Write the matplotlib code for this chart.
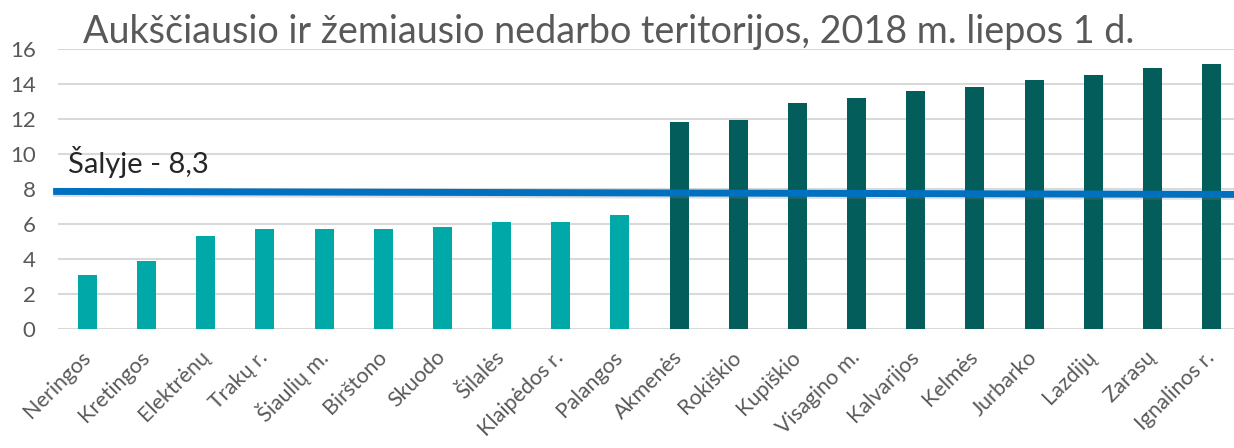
import matplotlib
matplotlib.use("Agg")
import matplotlib.pyplot as plt
import matplotlib.patheffects as pe

plt.rcParams['font.family'] = ['Lato', 'DejaVu Sans']

low_names = ["Neringos", "Kretingos", "Elektrėnų", "Trakų r.", "Šiaulių m.", "Birštono",
             "Skuodo", "Šilalės", "Klaipėdos r.", "Palangos"]
low_vals = [3.1, 3.9, 5.3, 5.7, 5.7, 5.7, 5.8, 6.1, 6.1, 6.5]
high_names = ["Akmenės", "Rokiškio", "Kupiškio", "Visagino m.", "Kalvarijos", "Kelmės",
              "Jurbarko", "Lazdijų", "Zarasų", "Ignalinos r."]
high_vals = [11.8, 11.9, 12.9, 13.2, 13.6, 13.8, 14.2, 14.5, 14.9, 15.1]
yticks = [0, 2, 4, 6, 8, 10, 12, 14, 16]
country_label = "Šalyje - 8,3"
country_line_x = [-0.58, 19.4]
country_line_y = [7.85, 7.68]
title = "Aukščiausio ir žemiausio nedarbo teritorijos, 2018 m. liepos 1 d."

names = low_names + high_names
x_low = list(range(len(low_names)))
x_high = list(range(len(low_names), len(names)))

fig = plt.figure(figsize=(12.34, 4.48), dpi=100)
ax = fig.add_axes([0.0469, 0.2656, 0.9531, 0.626])
ax.set_axisbelow(True)
ax.yaxis.grid(True, color="#d9d9d9", lw=1.5)
ax.bar(x_low, low_vals, width=0.32, color="#00a9a8")
ax.bar(x_high, high_vals, width=0.32, color="#035e5b")

ax.plot(country_line_x, country_line_y, color="#0070c0", lw=5, clip_on=False, zorder=4,
        solid_capstyle="butt",
        path_effects=[pe.SimpleLineShadow(offset=(0, -1.5), shadow_color="#808080", alpha=0.25),
                      pe.Normal()])
fig.text(0.055, 0.614, country_label, fontsize=21, color="#262626", ha="left", va="baseline")

ax.set_xlim(-0.5, 19.38)
ax.set_ylim(0, 16)
ax.set_yticks(yticks)
ax.set_xticks(range(len(names)))
ax.set_xticklabels(names, rotation=45, ha="right", va="center", rotation_mode="anchor",
                   fontsize=15.5, color="#595959")
ax.tick_params(axis="y", length=0, labelsize=16, labelcolor="#595959", pad=16)
ax.tick_params(axis="x", length=0, pad=18)
for s in ax.spines.values():
    s.set_visible(False)

fig.text(0.067, 0.905, title, fontsize=27.2, color="#595959", ha="left", va="baseline")

fig.savefig("out.png", dpi=100)
